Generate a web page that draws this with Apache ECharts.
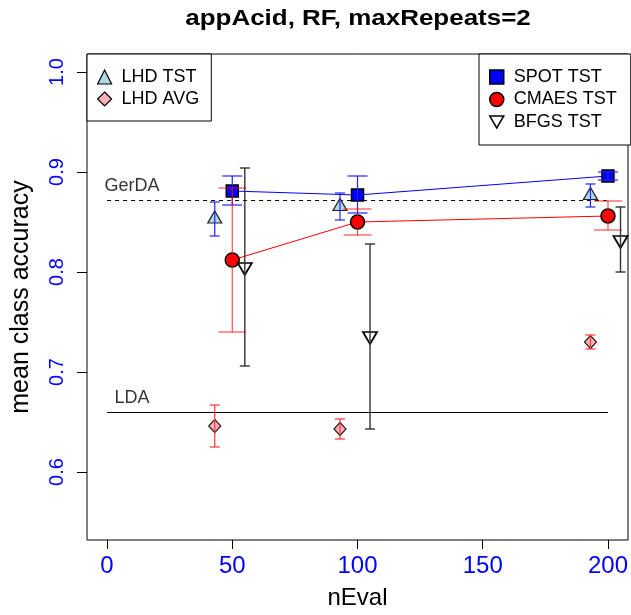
<!DOCTYPE html>
<html><head><meta charset="utf-8">
<script src="https://cdn.jsdelivr.net/npm/echarts@6/dist/echarts.min.js"></script>
<style>html,body{margin:0;padding:0;background:#fff}#c{width:631px;height:615px}</style>
</head><body><div id="c"></div>
<script>
const xTicks = [0, 50, 100, 150, 200];
const yTicks = [0.6, 0.7, 0.8, 0.9, 1.0];

const lhdX = [43, 93, 193];
const lhdTst = [0.853, 0.8655, 0.8765];
const lhdTstLo = [0.836, 0.852, 0.865];
const lhdTstHi = [0.870, 0.879, 0.888];
const lhdAvg = [0.646, 0.643, 0.730];
const lhdAvgLo = [0.625, 0.633, 0.723];
const lhdAvgHi = [0.667, 0.653, 0.737];

const spotX = [50, 100, 200];
const spot = [0.881, 0.877, 0.896];
const spotLo = [0.867, 0.859, 0.892];
const spotHi = [0.896, 0.896, 0.900];
const cmaes = [0.812, 0.850, 0.856];
const cmaesLo = [0.740, 0.837, 0.842];
const cmaesHi = [0.884, 0.863, 0.871];

const bfgsX = [55, 105, 205];
const bfgs = [0.805, 0.736, 0.832];
const bfgsLo = [0.706, 0.643, 0.800];
const bfgsHi = [0.904, 0.828, 0.865];

const refX = [0, 200];
const gerda = 0.8715;
const lda = 0.6595;
const refLabelX = 10;

const FONT = "'Liberation Sans', Arial, sans-serif";
const zip = (xs, ys) => xs.map((x, i) => [x, ys[i]]);
const zip3 = (xs, a, b) => xs.map((x, i) => [x, a[i], b[i]]);

function errRender(capHalf, color, width) {
  return function (params, api) {
    const x = api.value(0), lo = api.value(1), hi = api.value(2);
    const pLo = api.coord([x, lo]), pHi = api.coord([x, hi]);
    const st = { stroke: color, lineWidth: width };
    return { type: 'group', children: [
      { type: 'line', shape: { x1: pLo[0], y1: pLo[1], x2: pHi[0], y2: pHi[1] }, style: st },
      { type: 'line', shape: { x1: pLo[0] - capHalf, y1: pLo[1], x2: pLo[0] + capHalf, y2: pLo[1] }, style: st },
      { type: 'line', shape: { x1: pHi[0] - capHalf, y1: pHi[1], x2: pHi[0] + capHalf, y2: pHi[1] }, style: st }
    ]};
  };
}
function errSeries(name, data, capHalf, color, width) {
  return { name: name, type: 'custom', data: data, encode: { x: 0, y: [1, 2] },
    renderItem: errRender(capHalf, color, width), z: 4, silent: true };
}

const chart = echarts.init(document.getElementById('c'), null, { renderer: 'canvas' });
chart.setOption({
  animation: false,
  backgroundColor: '#fff',
  textStyle: { fontFamily: FONT },
  graphic: [{ type: 'text', x: 358, y: 19, scaleX: 1.18, style: { text: 'appAcid, RF, maxRepeats=2', fontFamily: FONT,
    fontSize: 22, fontWeight: 'bold', fill: '#000', align: 'center', verticalAlign: 'middle' } }],
  grid: { left: 87, right: 2, top: 54, bottom: 75, show: true, borderColor: '#000', borderWidth: 1, containLabel: false },
  xAxis: {
    type: 'value', min: -8, max: 208,
    name: 'nEval', nameLocation: 'middle', nameGap: 46,
    nameTextStyle: { fontSize: 24, color: '#000', fontFamily: FONT },
    axisLine: { show: false, onZero: false },
    axisTick: { show: true, length: 9, lineStyle: { color: '#000' }, customValues: xTicks },
    axisLabel: { show: true, customValues: xTicks, color: '#0000ff', fontSize: 24, margin: 14, fontFamily: FONT },
    splitLine: { show: false }
  },
  yAxis: {
    type: 'value', min: 0.532, max: 1.018,
    name: 'mean class accuracy', nameLocation: 'middle', nameGap: 53, nameRotate: 90,
    nameTextStyle: { fontSize: 25, color: '#000', fontFamily: FONT },
    axisLine: { show: false, onZero: false },
    axisTick: { show: true, length: 10, lineStyle: { color: '#000' }, customValues: yTicks },
    axisLabel: { show: true, customValues: yTicks, rotate: 90, color: '#0000ff', fontSize: 20, margin: 20,
      fontFamily: FONT, formatter: v => v.toFixed(1) },
    splitLine: { show: false }
  },
  legend: [
    { data: ['LHD TST', 'LHD AVG'], orient: 'vertical', left: 87, top: 54,
      padding: [12, 12, 11, 10], itemWidth: 14, itemHeight: 14, itemGap: 0,
      borderColor: '#000', borderWidth: 1, backgroundColor: '#fff',
      itemStyle: { borderColor: '#000', borderWidth: 1.2 },
      textStyle: { fontSize: 18, lineHeight: 22, color: '#000', fontFamily: FONT, padding: [0, 0, 0, 5] }, selectedMode: false },
    { data: ['SPOT TST', 'CMAES TST', { name: 'BFGS TST', icon: 'path://M0,0 L14,0 L7,12 Z' }],
      orient: 'vertical', left: 479, top: 54,
      padding: [12, 14, 12, 10], itemWidth: 14, itemHeight: 14, itemGap: 0.5,
      borderColor: '#000', borderWidth: 1, backgroundColor: '#fff',
      itemStyle: { borderColor: '#000', borderWidth: 1.5 },
      textStyle: { fontSize: 18, lineHeight: 22, color: '#000', fontFamily: FONT, padding: [0, 0, 0, 5] }, selectedMode: false }
  ],
  series: [
    { name: 'GerDA', type: 'line', data: zip(refX, [gerda, gerda]), symbol: 'none', silent: true, z: 1,
      lineStyle: { color: '#000', width: 1, type: [4, 4] } },
    { name: 'LDA', type: 'line', data: zip(refX, [lda, lda]), symbol: 'none', silent: true, z: 1,
      lineStyle: { color: '#000', width: 1 } },
    { name: 'refLabels', type: 'scatter', symbolSize: 0, silent: true, z: 1,
      data: [{ value: [refLabelX, gerda], name: 'GerDA' }, { value: [refLabelX, lda], name: 'LDA' }],
      label: { show: true, formatter: '{b}', position: 'inside', offset: [0, -14], color: '#000', fontSize: 18, fontFamily: FONT } },
    { name: 'spotLine', type: 'line', data: zip(spotX, spot), symbol: 'none', silent: true, z: 2,
      lineStyle: { color: '#0000ff', width: 1 } },
    { name: 'cmaesLine', type: 'line', data: zip(spotX, cmaes), symbol: 'none', silent: true, z: 2,
      lineStyle: { color: '#ff0000', width: 1 } },
    { name: 'LHD TST', type: 'scatter', data: zip(lhdX, lhdTst), symbol: 'triangle', symbolSize: [14, 12],
      symbolOffset: [0, -2], z: 3, itemStyle: { color: '#add8e6', borderColor: '#222', borderWidth: 1.2, opacity: 1 } },
    { name: 'LHD AVG', type: 'scatter', data: zip(lhdX, lhdAvg), symbol: 'diamond', symbolSize: [12, 13],
      z: 3, itemStyle: { color: '#ffb0b8', borderColor: '#222', borderWidth: 1.2, opacity: 1 } },
    { name: 'SPOT TST', type: 'scatter', data: zip(spotX, spot), symbol: 'rect', symbolSize: 12,
      z: 3, itemStyle: { color: '#0000ff', borderColor: '#000', borderWidth: 1.5, opacity: 1 } },
    { name: 'CMAES TST', type: 'scatter', data: zip(spotX, cmaes), symbol: 'circle', symbolSize: 14,
      z: 3, itemStyle: { color: '#ff0000', borderColor: '#000', borderWidth: 1.5, opacity: 1 } },
    { name: 'BFGS TST', type: 'scatter', data: zip(bfgsX, bfgs), symbol: 'triangle', symbolRotate: 180,
      symbolSize: [14, 12], symbolOffset: [0, 2], z: 3,
      itemStyle: { color: 'rgba(255,255,255,0)', borderColor: '#000', borderWidth: 1.8, opacity: 1 } },
    errSeries('errLhdTst', zip3(lhdX, lhdTstLo, lhdTstHi), 5, '#2222ff', 1.2),
    errSeries('errLhdAvg', zip3(lhdX, lhdAvgLo, lhdAvgHi), 5, '#ff3333', 1.2),
    errSeries('errSpot', zip3(spotX, spotLo, spotHi), 10, '#2222ff', 1.2),
    errSeries('errCmaes', zip3(spotX, cmaesLo, cmaesHi), 14, 'rgba(255,0,0,0.7)', 1.2),
    errSeries('errBfgs', zip3(bfgsX, bfgsLo, bfgsHi), 5, '#333333', 1.4)
  ]
});
</script></body></html>
